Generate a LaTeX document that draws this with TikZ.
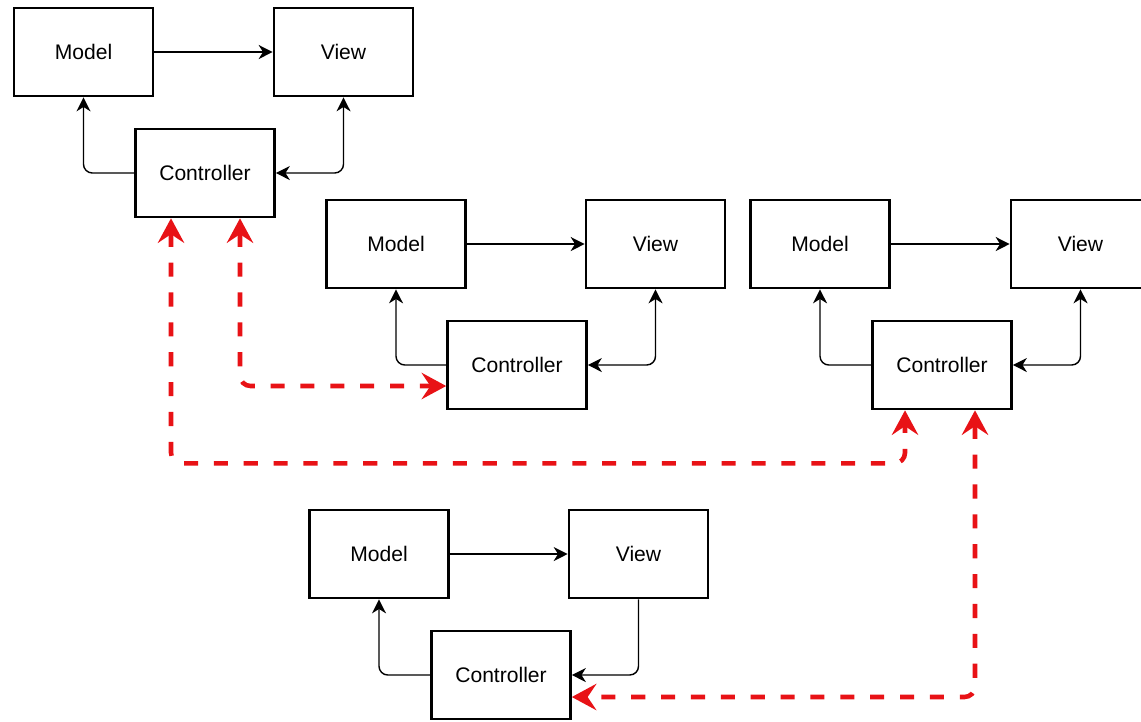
\documentclass[tikz,border=0pt]{standalone}
\usepackage{fontspec}
\setmainfont{Liberation Sans}
\usepackage{xcolor}
\usepackage{tikz}
\usetikzlibrary{arrows.meta, positioning}

\definecolor{linkred}{RGB}{232,18,22}

\tikzset{
    block/.style={draw, line width=1.5pt, minimum width=2.78cm, minimum height=1.76cm,
        font=\fontsize{12}{14}\selectfont},
    conn/.style={line width=0.8pt, rounded corners=5pt},
    link/.style={linkred, line width=2.6pt, dash pattern=on 8pt off 9pt, rounded corners=6pt,
        arrows={Stealth[length=14pt,width=15pt,inset=5pt]-Stealth[length=14pt,width=15pt,inset=5pt]}}
}

\begin{document}
\begin{tikzpicture}[x=0.02cm, y=-0.02cm, >={Stealth[length=8pt,width=8pt,inset=2.5pt]}]
    \useasboundingbox (0,0) rectangle (1141,721);

    % First triad, top left
    \node[block] (m1) at (83.5,52) {Model};
    \node[block] (v1) at (343.5,52) {View};
    \node[block] (c1) at (205,173) {Controller};
    \draw[conn,->] (m1) -- (v1);
    \draw[conn,->] (c1.west) -| (m1.south);
    \draw[conn,<->] (v1.south) |- (c1.east);

    % Second triad, middle
    \node[block] (m2) at (396,244) {Model};
    \node[block] (v2) at (655.5,244) {View};
    \node[block] (c2) at (517,365) {Controller};
    \draw[conn,->] (m2) -- (v2);
    \draw[conn,->] (c2.west) -| (m2.south);
    \draw[conn,<->] (v2.south) |- (c2.east);

    % Third triad, right (view runs off the edge)
    \node[block] (m3) at (820,244) {Model};
    \node[block] (v3) at (1080.5,244) {View};
    \node[block] (c3) at (942,365) {Controller};
    \draw[conn,->] (m3) -- (v3);
    \draw[conn,->] (c3.west) -| (m3.south);
    \draw[conn,<->] (v3.south) |- (c3.east);

    % Fourth triad, bottom
    \node[block] (m4) at (379,554) {Model};
    \node[block] (v4) at (638.5,554) {View};
    \node[block] (c4) at (501,675) {Controller};
    \draw[conn,->] (m4) -- (v4);
    \draw[conn,->] (c4.west) -| (m4.south);
    \draw[conn,->] (v4.south) |- (c4.east);

    % Red dashed links between the controllers
    \draw[link] ([xshift=0.7cm]c1.south) |- ([yshift=-0.42cm]c2.west);
    \draw[link] ([xshift=-0.68cm]c1.south) -- ++(0,245) -| ([xshift=-0.74cm]c3.south);
    \draw[link] ([xshift=0.66cm]c3.south) |- ([yshift=-0.44cm]c4.east);

\end{tikzpicture}
\end{document}
